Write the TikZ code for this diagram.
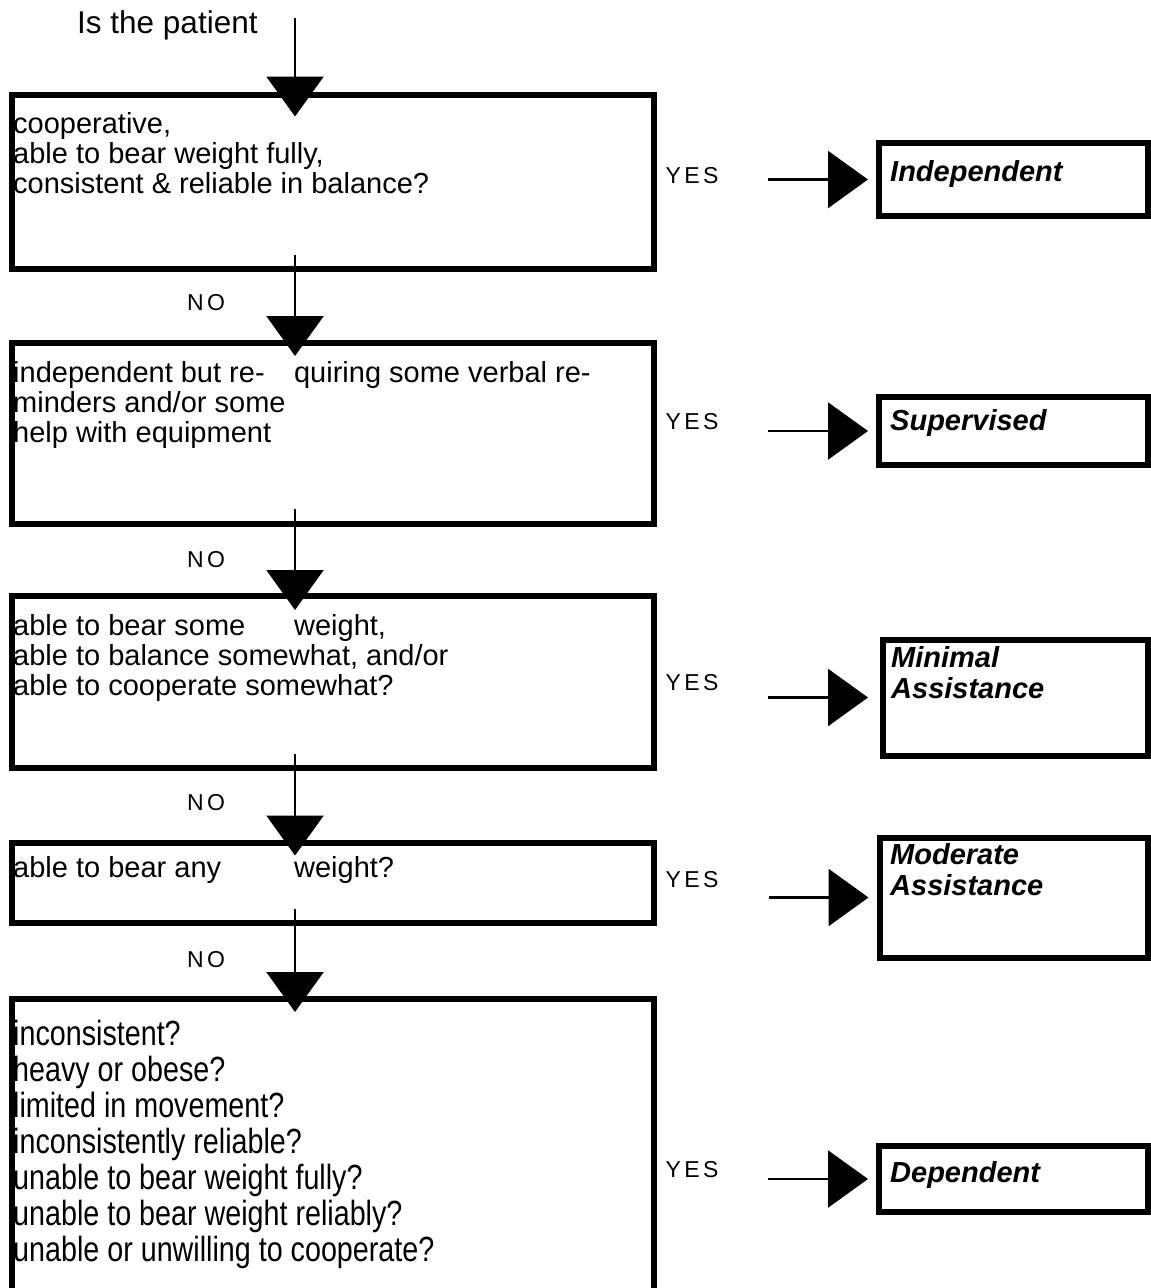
\documentclass[tikz,border=0pt]{standalone}
\usepackage{fontspec}
\setmainfont{Liberation Sans}
\newfontfamily\narrowfont[FakeStretch=0.82]{Liberation Sans}
\usetikzlibrary{arrows.meta,calc}
\newcommand{\qsize}{\fontsize{29}{30}\selectfont}
\newcommand{\nsize}{\narrowfont\fontsize{35}{36}\selectfont}
\newcommand{\rsize}{\fontsize{29}{31}\selectfont\bfseries\itshape}
\newcommand{\tagsize}{\fontsize{23}{25}\selectfont\addfontfeature{LetterSpace=15}}
\newcommand{\upto}[1]{\makebox[281pt][l]{#1}}
\tikzset{
  caja/.style={draw,line width=6pt,anchor=north west,outer sep=0pt,inner sep=0pt},
  texto/.style={anchor=base west,align=left,inner sep=0pt,font=\qsize},
  textoangosto/.style={texto,font=\nsize},
  resultado/.style={anchor=base west,align=left,inner sep=0pt,font=\rsize},
  titulo/.style={anchor=base west,inner sep=0pt,font=\fontsize{31.5}{33}\selectfont},
  etiqueta/.style={inner sep=0pt,font=\tagsize},
  flecha/.style={line width=2.5pt,-{Triangle[length=40pt,width=57pt]}},
  flechah/.style={flecha,shorten >=11pt},
}

\begin{document}
\begin{tikzpicture}[x=1pt,y=-1pt]
  \path[fill=white,use as bounding box] (0,0) rectangle (1151,1288);
  % pregunta inicial
  \node[titulo] (intro) at (77,33) {Is the patient};
  \coordinate (start) at (295,18);
  % cajas de preguntas
  \node[caja,minimum width=642pt,minimum height=174pt] (b1) at (11.5,94.5) {};
  \node[caja,minimum width=642pt,minimum height=181pt] (b2) at (11.5,343) {};
  \node[caja,minimum width=642pt,minimum height=172pt] (b3) at (11.5,596) {};
  \node[caja,minimum width=642pt,minimum height=80.5pt] (b4) at (11.5,842.5) {};
  \node[caja,minimum width=642pt,minimum height=311pt] (b5) at (11.5,999) {};
  % (la base del texto es la de su ultima linea)
  \node[texto] (t1) at (13,193) {cooperative,\\able to bear weight fully,\\consistent \& reliable in balance?};
  \node[texto] (t2) at (13,442) {\upto{independent but re-}quiring some verbal re-\\minders and/or some\\help with equipment};
  \node[texto] (t3) at (13,695) {\upto{able to bear some}weight,\\able to balance somewhat, and/or\\able to cooperate somewhat?};
  \node[texto] (t4) at (13,877) {\upto{able to bear any}weight?};
  \node[textoangosto] (t5) at (13,1261) {inconsistent?\\heavy or obese?\\limited in movement?\\inconsistently reliable?\\unable to bear weight fully?\\unable to bear weight reliably?\\unable or unwilling to cooperate?};
  % cajas de resultado
  \node[caja,minimum width=269pt,minimum height=73pt] (ind) at (879,143) {};
  \node[caja,minimum width=269pt,minimum height=68pt] (sup) at (879,397) {};
  \node[caja,minimum width=265pt,minimum height=116pt] (min) at (883,639.5) {};
  \node[caja,minimum width=268.5pt,minimum height=120pt] (mod) at (879.5,837.5) {};
  \node[caja,minimum width=269pt,minimum height=66pt] (dep) at (879,1146) {};
  \node[resultado] (r1) at (890,181) {Independent};
  \node[resultado] (r2) at (890,430) {Supervised};
  \node[resultado] (r3) at (891,698) {Minimal\\Assistance};
  \node[resultado] (r4) at (890,895) {Moderate\\Assistance};
  \node[resultado] (r5) at (890,1182) {Dependent};
  % respuestas
  \node[etiqueta] (no1) at (206,303) {NO};
  \node[etiqueta] (no2) at (206,560) {NO};
  \node[etiqueta] (no3) at (206,803) {NO};
  \node[etiqueta] (no4) at (206,960) {NO};
  \node[etiqueta] (si1) at (692,176) {YES};
  \node[etiqueta] (si2) at (692,422) {YES};
  \node[etiqueta] (si3) at (692,683) {YES};
  \node[etiqueta] (si4) at (692,880) {YES};
  \node[etiqueta] (si5) at (692,1170) {YES};
  % flechas verticales
  \draw[flecha] (start) -- ($(b1.north -| start)+(0,22)$);
  \draw[flecha] ($(b1.south -| start)+(0,-14)$) -- ($(b2.north -| start)+(0,13)$);
  \draw[flecha] ($(b2.south -| start)+(0,-15)$) -- ($(b3.north -| start)+(0,14)$);
  \draw[flecha] ($(b3.south -| start)+(0,-14)$) -- ($(b4.north -| start)+(0,13)$);
  \draw[flecha] ($(b4.south -| start)+(0,-14)$) -- ($(b5.north -| start)+(0,13)$);
  % flechas horizontales
  \draw[flechah] ([xshift=-111pt]ind.west) -- (ind.west);
  \draw[flechah] ([xshift=-111pt]sup.west) -- (sup.west);
  \draw[flechah] ([xshift=-115pt]min.west) -- ([xshift=-4pt]min.west);
  \draw[flechah] ([xshift=-111pt]mod.west) -- (mod.west);
  \draw[flechah] ([xshift=-111pt]dep.west) -- (dep.west);
\end{tikzpicture}
\end{document}
